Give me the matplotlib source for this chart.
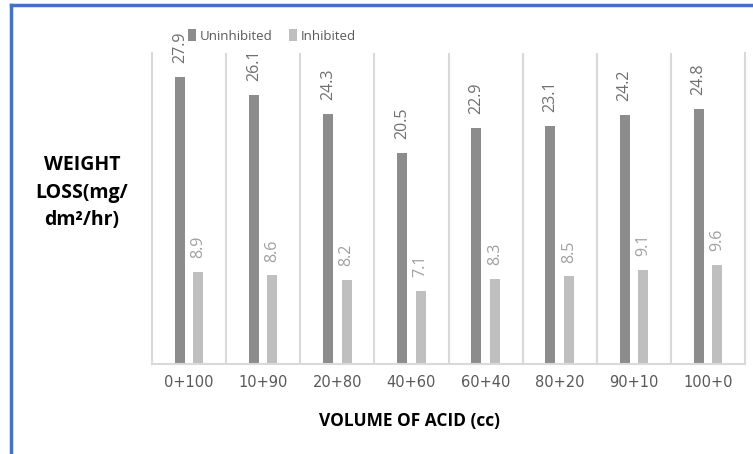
import numpy as np
import matplotlib.pyplot as plt
from matplotlib.lines import Line2D

categories = ['0+100', '10+90', '20+80', '40+60', '60+40', '80+20', '90+10', '100+0']
uninhibited = [27.9, 26.1, 24.3, 20.5, 22.9, 23.1, 24.2, 24.8]
inhibited = [8.9, 8.6, 8.2, 7.1, 8.3, 8.5, 9.1, 9.6]

fig = plt.figure(figsize=(7.53, 4.54), dpi=100)
ax = fig.add_axes([152 / 753, 90 / 454, 593 / 753, 311 / 454])

x = np.arange(len(categories))
w = 0.135
b1 = ax.bar(x - 0.125, uninhibited, w, color='#8c8c8c', label='Uninhibited')
b2 = ax.bar(x + 0.125, inhibited, w, color='#bfbfbf', label='Inhibited')

for bars, vals, col in [(b1, uninhibited, '#6f6f6f'), (b2, inhibited, '#a0a0a0')]:
    for r, v in zip(bars, vals):
        ax.annotate(f'{v}', (r.get_x() + r.get_width() / 2, v), xytext=(0, 10),
                    textcoords='offset points', rotation=90, ha='center',
                    va='bottom', fontsize=11.5, color=col, family='Open Sans')

ax.set_xlim(-0.5, len(categories) - 0.5)
ax.set_ylim(0, 30.2)
ax.set_yticks([])
ax.set_xticks(x)
ax.set_xticklabels(categories, fontsize=10.5, color='#595959')
ax.tick_params(axis='x', length=0, pad=8)

# category separators
for b in np.arange(0.5, len(categories) - 1, 1):
    ax.axvline(b, color='#d9d9d9', lw=1.5, zorder=0)
for s in ['left', 'right', 'bottom']:
    ax.spines[s].set_color('#d9d9d9')
    ax.spines[s].set_linewidth(1.5)
ax.spines['top'].set_visible(False)

ax.legend(loc='center', ncol=2, frameon=False,
          handlelength=0.6, handleheight=1.0, handletextpad=0.3, columnspacing=1.2,
          prop={'family': 'Open Sans', 'size': 9.5}, labelcolor='#595959')
ax.get_legend().set_bbox_to_anchor((272 / 753, 1 - 36 / 454), transform=fig.transFigure)

fig.text(82 / 753, 1 - 193 / 454, 'WEIGHT\nLOSS(mg/\ndm²/hr)', ha='center', va='center',
         fontsize=14, fontweight='bold', family='Open Sans', linespacing=1.5)
fig.text(410 / 753, 1 - 421 / 454, 'VOLUME OF ACID (cc)', ha='center', va='center',
         fontsize=12.5, fontweight='bold', family='Open Sans')

# frame lines of the surrounding box
fig.add_artist(Line2D([11 / 753, 11 / 753], [0, 1 - 5 / 454], color='#4472c4', lw=2.5,
                      transform=fig.transFigure))
fig.add_artist(Line2D([11 / 753, 1], [1 - 5 / 454, 1 - 5 / 454], color='#4472c4', lw=2.5,
                      transform=fig.transFigure))

fig.savefig('out.png', dpi=100)
